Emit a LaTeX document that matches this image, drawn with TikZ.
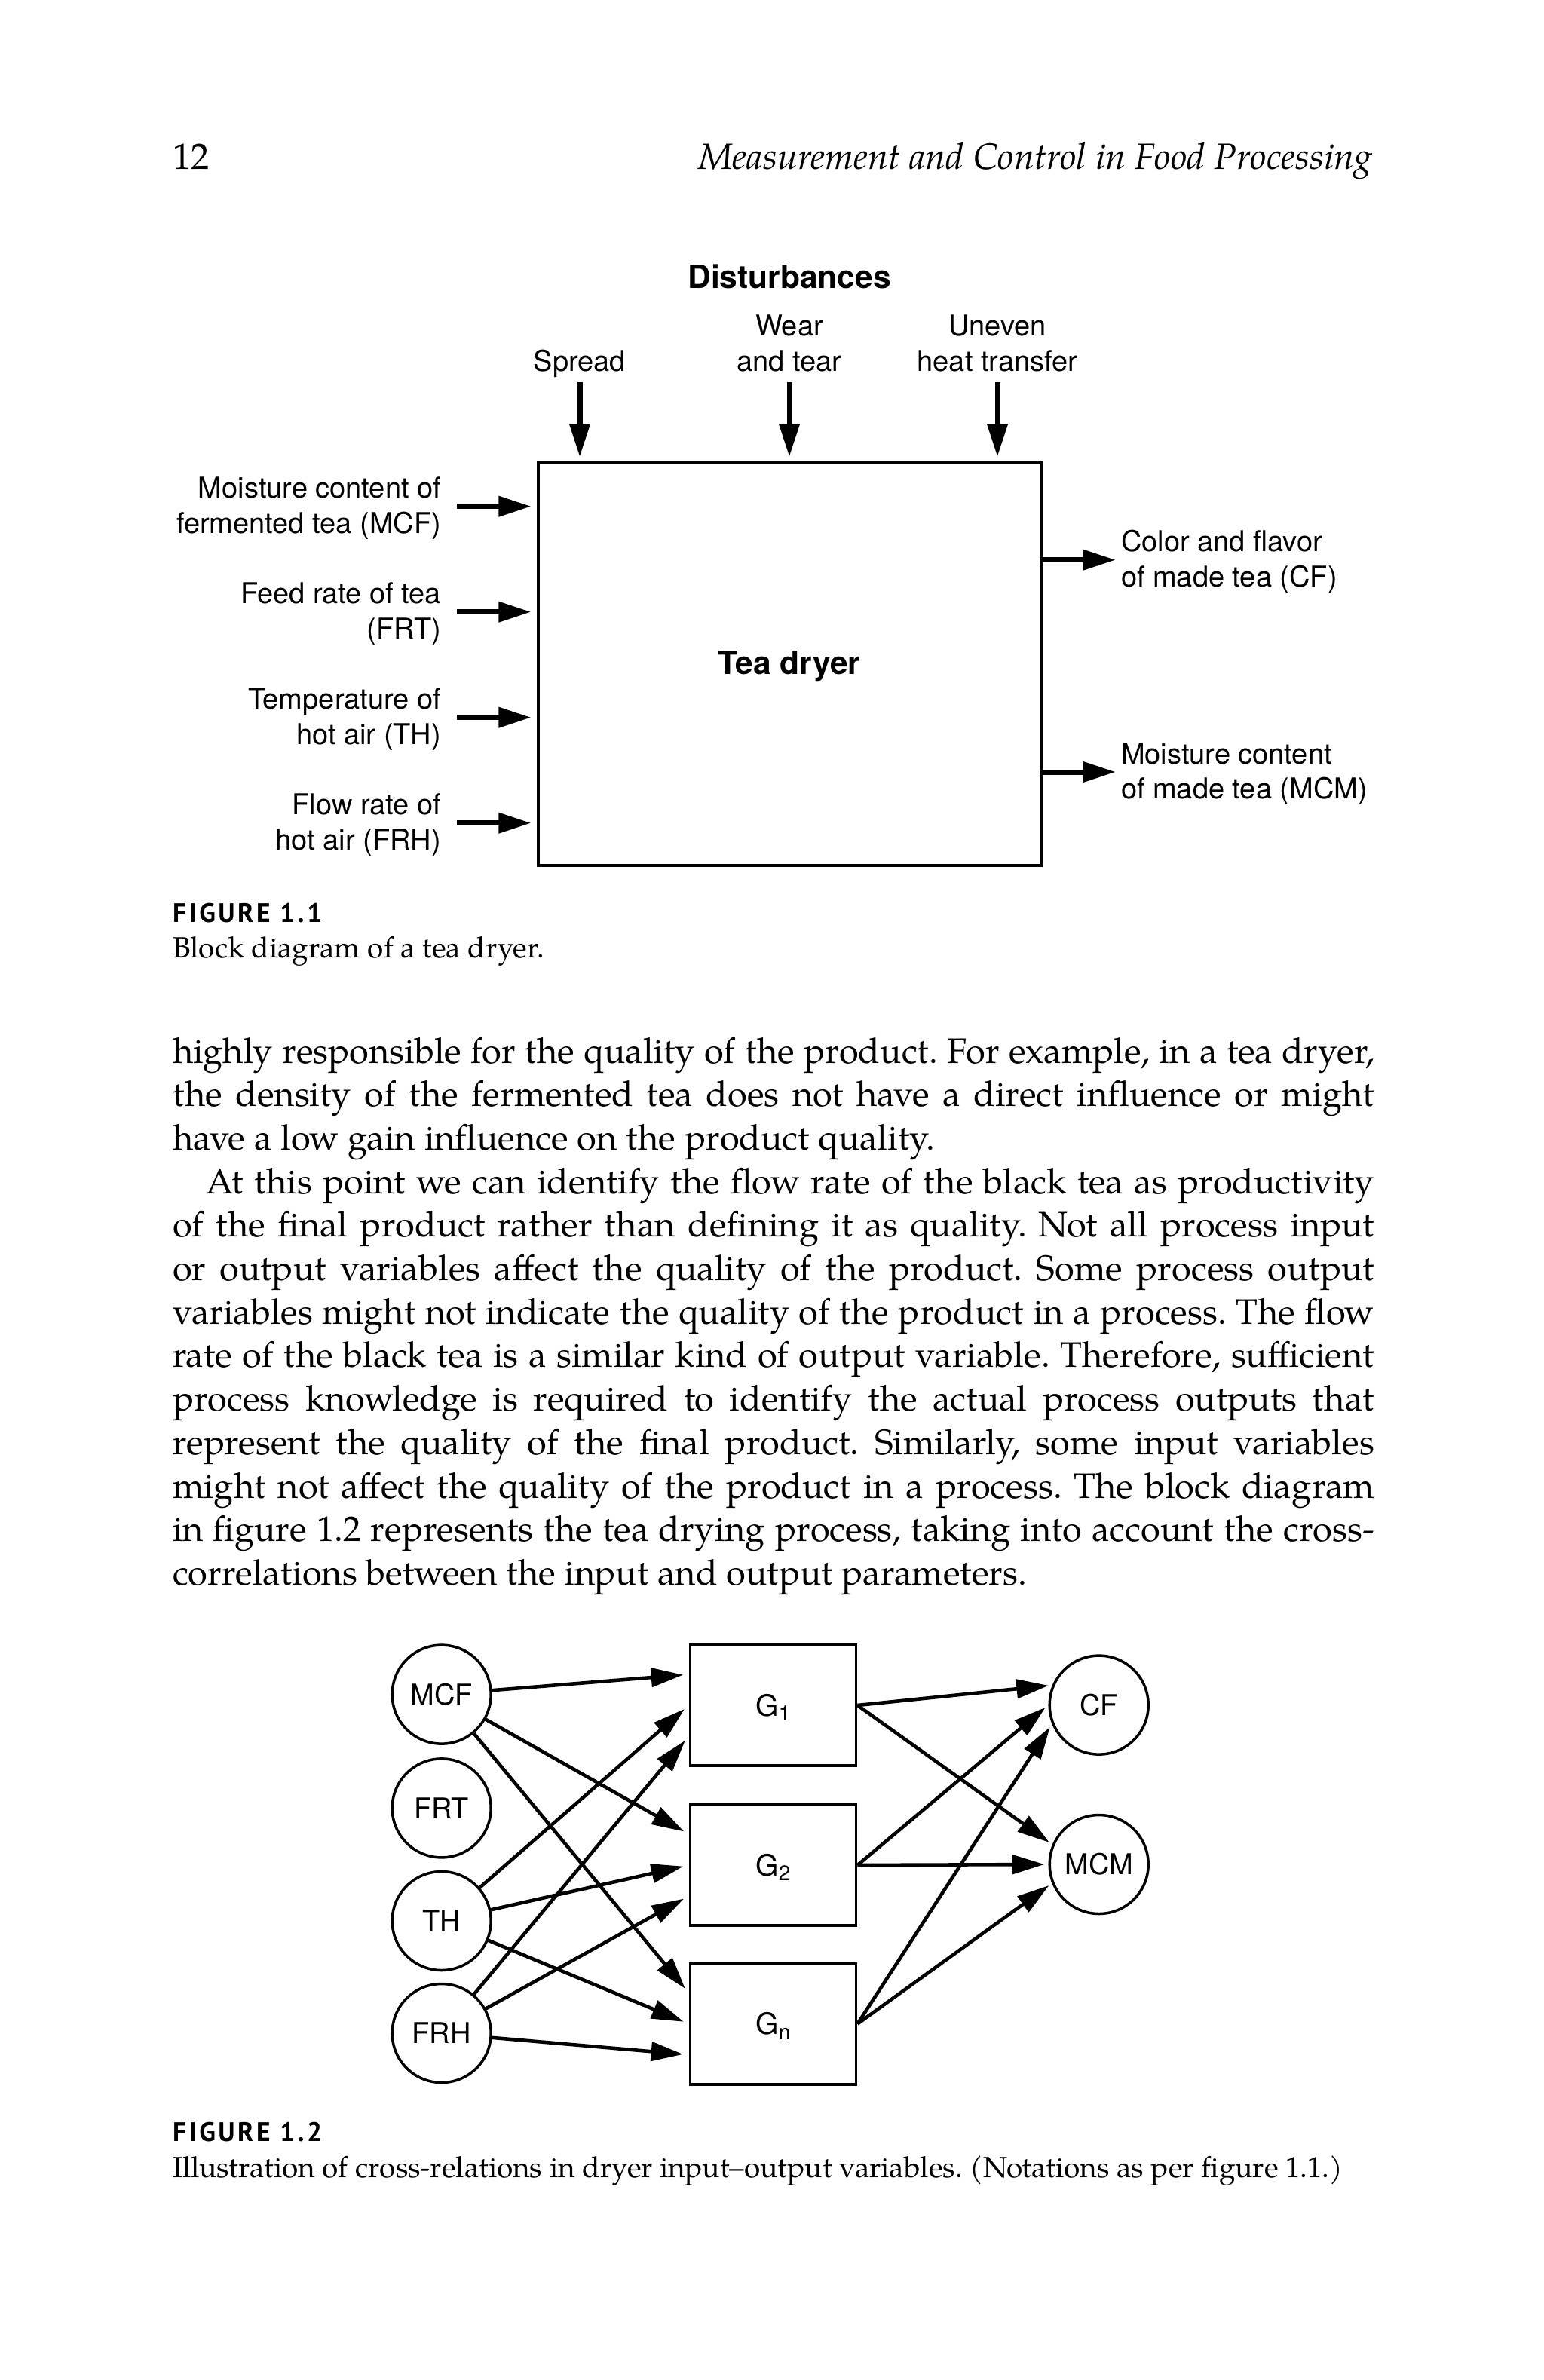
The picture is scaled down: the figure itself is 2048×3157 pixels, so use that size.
\documentclass[tikz,border=0pt]{standalone}
\usepackage{fontspec}
\setmainfont{TeX Gyre Pagella}
\newfontfamily\diag{TeX Gyre Heros}
\newfontfamily\capfont[LetterSpace=10]{PT Sans}
\usetikzlibrary{arrows.meta,calc}
\frenchspacing
\newcommand\gsub[1]{\raisebox{-1.3pt}[0pt][0pt]{\fontsize{5.6pt}{6pt}\selectfont #1}}
\newcommand\jline[1]{\makebox[318.8pt][s]{#1}}
\newcommand\jlinei[1]{\makebox[310pt][s]{#1}}
\tikzset{
  bodytxt/.style={inner sep=0pt, anchor=base west, font=\fontsize{9.4pt}{11.5pt}\selectfont},
  captxt/.style={inner sep=0pt, anchor=base west, font=\fontsize{7.75pt}{9.4pt}\selectfont},
  caphead/.style={inner sep=0pt, anchor=base west, font=\capfont\bfseries\fontsize{7.1pt}{8pt}\selectfont},
  lab/.style={inner sep=0pt, font=\diag\fontsize{7.6pt}{9.4pt}\selectfont},
  boldlab/.style={inner sep=0pt, font=\diag\bfseries\fontsize{8.5pt}{10pt}\selectfont},
  bigarrow/.style={line width=1.4pt, -{Triangle[length=8.7pt,width=5.2pt]}},
  thinarrow/.style={line width=0.92pt, -{Triangle[length=8.5pt,width=5pt]}, shorten >=1.5pt},
  circ/.style={circle, draw, line width=0.7pt, minimum size=26.2pt, inner sep=0pt, font=\diag\fontsize{7.6pt}{9pt}\selectfont},
  gbox/.style={rectangle, draw, line width=0.75pt, minimum width=44pt, minimum height=32pt, inner sep=0pt, font=\diag\fontsize{7.8pt}{9pt}\selectfont},
}
\begin{document}
\begin{tikzpicture}[x=0.2pt,y=-0.2pt]
\path[use as bounding box, fill=white] (0,0) rectangle (2048,3157);

% header
\node[bodytxt, font=\fontsize{9.7pt}{11.5pt}\selectfont] (pgno) at (228,225) {12};
\node[inner sep=0pt, anchor=base east, font=\itshape\fontsize{9.7pt}{11.5pt}\selectfont] (runhead) at (1822,225) {Measurement and Control in Food Processing};

% ---------- Figure 1.1 ----------
\node[boldlab, anchor=base] (dist) at (1047,383) {Disturbances};
\node[lab, anchor=base] (sp) at (769,493) {Spread};
\node[lab, anchor=base] (we1) at (1047,446) {Wear};
\node[lab, anchor=base] (we2) at (1047,493) {and tear};
\node[lab, anchor=base] (un1) at (1323,446) {Uneven};
\node[lab, anchor=base] (un2) at (1323,493) {heat transfer};

\node[draw, line width=0.8pt, minimum width=133.46pt, minimum height=106.8pt, inner sep=0pt] (tb) at (1047.4,881) {};
\node[boldlab, anchor=base] (tbl) at (1047,894) {Tea dryer};

\coordinate (d1) at (769,507);
\coordinate (d2) at (1047,507);
\coordinate (d3) at (1323,507);
\foreach \c in {d1,d2,d3}{\draw[bigarrow, shorten >=1.2pt] (\c) -- (\c |- tb.north);}

\coordinate (i1) at (606,671.7);
\coordinate (i2) at (606,811.7);
\coordinate (i3) at (606,951.7);
\coordinate (i4) at (606,1091.7);
\foreach \c in {i1,i2,i3,i4}{\draw[bigarrow, shorten >=1.4pt] (\c) -- (tb.west |- \c);}

\node[lab, anchor=base east] (l1a) at (586,660.7) {Moisture content of};
\node[lab, anchor=base east] (l1b) at (586,707.2) {fermented tea (MCF)};
\node[lab, anchor=base east] (l2a) at (586,800.7) {Feed rate of tea};
\node[lab, anchor=base east] (l2b) at (586,847.2) {(FRT)};
\node[lab, anchor=base east] (l3a) at (586,940.7) {Temperature of};
\node[lab, anchor=base east] (l3b) at (586,987.2) {hot air (TH)};
\node[lab, anchor=base east] (l4a) at (586,1080.7) {Flow rate of};
\node[lab, anchor=base east] (l4b) at (586,1127.2) {hot air (FRH)};

\coordinate (o1) at (1480,742.7);
\coordinate (o2) at (1480,1024);
\draw[bigarrow] (tb.east |- o1) -- (o1);
\draw[bigarrow] (tb.east |- o2) -- (o2);
\node[lab, anchor=base west] (r1a) at (1486,731.7) {Color and flavor};
\node[lab, anchor=base west] (r1b) at (1486,778.2) {of made tea (CF)};
\node[lab, anchor=base west] (r2a) at (1486,1013) {Moisture content};
\node[lab, anchor=base west] (r2b) at (1486,1059.5) {of made tea (MCM)};

\node[caphead] (f1h) at (228,1223) {FIGURE 1.1};
\node[captxt] (f1c) at (228,1270) {Block diagram of a tea dryer.};

% ---------- body text ----------
\node[bodytxt] (b1) at (228,1410) {\jline{highly responsible for the quality of the product. For example, in a tea dryer,}};
\node[bodytxt] (b2) at (228,1467.7) {\jline{the density of the fermented tea does not have a direct influence or might}};
\node[bodytxt] (b3) at (228,1525.4) {have a low gain influence on the product quality.};
\node[bodytxt] (b4) at (272,1583.1) {\jlinei{At this point we can identify the flow rate of the black tea as productivity}};
\node[bodytxt] (b5) at (228,1640.8) {\jline{of the final product rather than defining it as quality. Not all process input}};
\node[bodytxt] (b6) at (228,1698.5) {\jline{or output variables affect the quality of the product. Some process output}};
\node[bodytxt] (b7) at (228,1756.2) {\jline{variables might not indicate the quality of the product in a process. The flow}};
\node[bodytxt] (b8) at (228,1813.9) {\jline{rate of the black tea is a similar kind of output variable. Therefore, sufficient}};
\node[bodytxt] (b9) at (228,1871.6) {\jline{process knowledge is required to identify the actual process outputs that}};
\node[bodytxt] (b10) at (228,1929.3) {\jline{represent the quality of the final product. Similarly, some input variables}};
\node[bodytxt] (b11) at (228,1987) {\jline{might not affect the quality of the product in a process. The block diagram}};
\node[bodytxt] (b12) at (228,2044.7) {\jline{in figure 1.2 represents the tea drying process, taking into account the cross-}};
\node[bodytxt] (b13) at (228,2102.4) {correlations between the input and output parameters.};

% ---------- Figure 1.2 ----------
\node[circ] (MCF) at (585.7,2247.6) {MCF};
\node[circ] (FRT) at (585.7,2398.4) {FRT};
\node[circ] (TH) at (585.7,2548) {TH};
\node[circ] (FRH) at (585.7,2697) {FRH};
\node[circ] (CF) at (1457.7,2261.6) {CF};
\node[circ] (MCM) at (1457.7,2473) {MCM};

\node[gbox] (G1) at (1025.5,2262) {G\gsub{1}};
\node[gbox] (G2) at (1025.5,2474) {G\gsub{2}};
\node[gbox] (Gn) at (1025.5,2684.6) {G\gsub{n}};

\foreach \g in {G1,G2,Gn}{
  \draw[thinarrow] (MCF) -- ($(\g.north west)!0.25!(\g.south west)$);
  \draw[thinarrow] (TH) -- (\g.west);
  \draw[thinarrow] (FRH) -- ($(\g.north west)!0.75!(\g.south west)$);
}
\draw[thinarrow, shorten >=1pt] (G1.east) -- (CF.157.5);
\draw[thinarrow, shorten >=1pt] (G1.east) -- (MCM.157.5);
\draw[thinarrow, shorten >=1pt] (G2.east) -- (CF.180);
\draw[thinarrow, shorten >=1pt] (G2.east) -- (MCM.180);
\draw[thinarrow, shorten >=1pt] (Gn.east) -- (CF.202.5);
\draw[thinarrow, shorten >=1pt] (Gn.east) -- (MCM.202.5);

\node[caphead] (f2h) at (228,2840) {FIGURE 1.2};
\node[captxt] (f2c) at (228,2888) {Illustration of cross-relations in dryer input–output variables. (Notations as per figure 1.1.)};
\end{tikzpicture}
\end{document}
